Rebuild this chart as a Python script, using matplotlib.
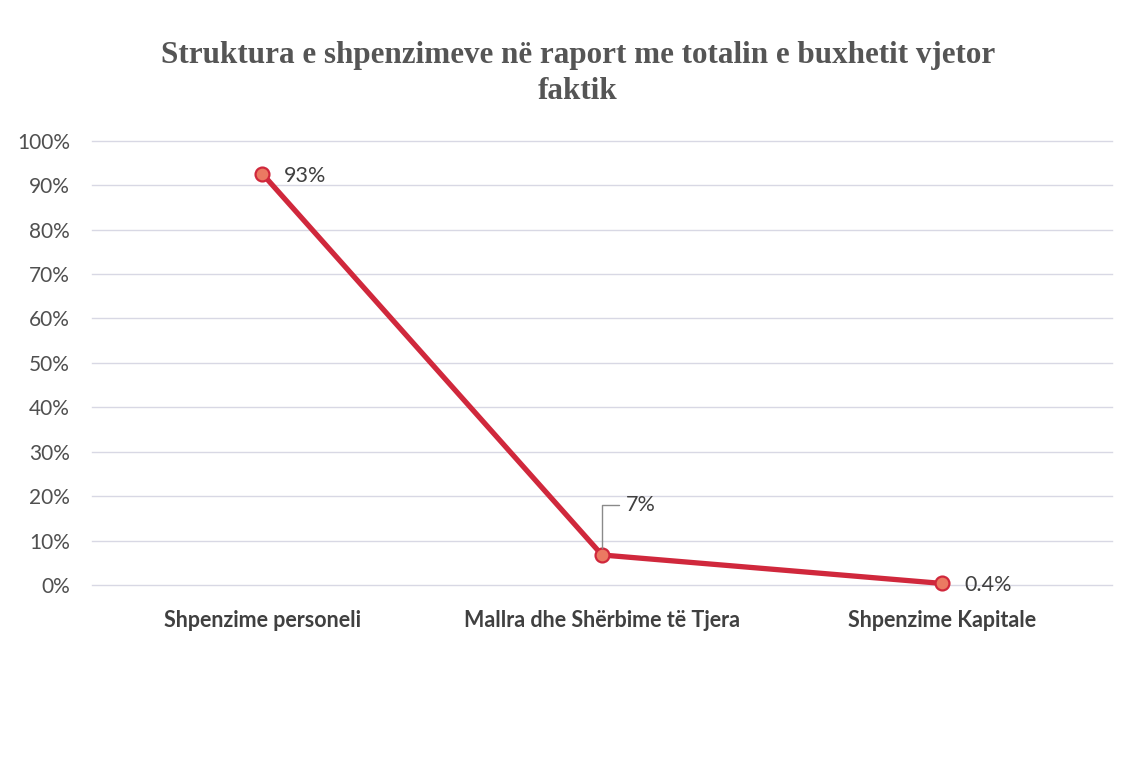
import matplotlib.pyplot as plt
from matplotlib.ticker import PercentFormatter

categories = ['Shpenzime personeli', 'Mallra dhe Shërbime të Tjera', 'Shpenzime Kapitale']
shares = [0.926, 0.068, 0.004]
labels = ['93%', '7%', '0.4%']
yticks = [0, 0.1, 0.2, 0.3, 0.4, 0.5, 0.6, 0.7, 0.8, 0.9, 1.0]

title = 'Struktura e shpenzimeve në raport me totalin e buxhetit vjetor\nfaktik'

fig = plt.figure(figsize=(11.38, 7.6), dpi=100)
ax = fig.add_axes([0.081, 0.230, 0.896, 0.585])

x = list(range(len(categories)))
ax.plot(x, shares, color='#d0283c', lw=3.8, marker='o', ms=10,
        mfc='#eb7a62', mec='#d0283c', mew=1.6, zorder=3,
        solid_joinstyle='round', clip_on=False)

ax.set_xlim(-0.5, len(categories) - 0.5)
ax.set_ylim(0, 1.0)
ax.set_yticks(yticks)
ax.yaxis.set_major_formatter(PercentFormatter(1.0, decimals=0))
ax.set_xticks(x)
ax.set_xticklabels(categories, fontsize=15.5, fontweight='bold', color='#404040',
                   family='Lato')
for t in ax.get_yticklabels():
    t.set_fontsize(15)
    t.set_color('#505050')
    t.set_family('Lato')
ax.tick_params(length=0)
ax.tick_params(axis='y', pad=16)
ax.tick_params(axis='x', pad=18)
ax.grid(axis='y', color='#d8d8e4', lw=1, clip_on=False)
ax.set_axisbelow(True)
for s in ax.spines.values():
    s.set_visible(False)

lab_kw = dict(fontsize=15.5, color='#404040', family='Lato', va='center')
ax.annotate(labels[0], (x[0], shares[0]), xytext=(16, -2),
            textcoords='offset points', ha='left', **lab_kw)
ax.annotate(labels[1], (x[1], shares[1]), xytext=(17, 36),
            textcoords='offset points', ha='left',
            arrowprops=dict(arrowstyle='-', color='#8a8a8a', lw=1,
                            connectionstyle='angle,angleA=0,angleB=90,rad=0',
                            shrinkA=3, shrinkB=5), **lab_kw)
ax.annotate(labels[2], (x[2], shares[2]), xytext=(16, -1),
            textcoords='offset points', ha='left', **lab_kw)

fig.text(0.508, 0.903, title, ha='center', va='center', fontsize=22.4,
         fontweight='bold', color='#555555', family='Liberation Serif',
         linespacing=1.3)

fig.savefig('out.png', dpi=100, facecolor='white')
